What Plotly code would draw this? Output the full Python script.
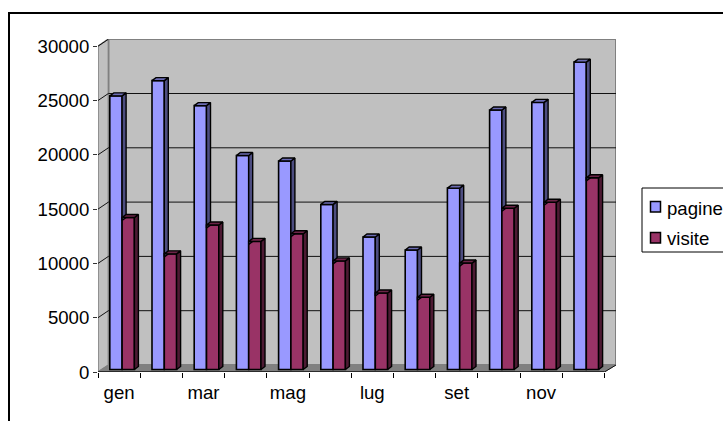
import plotly.graph_objects as go

months = ["gen", "feb", "mar", "apr", "mag", "giu", "lug", "ago", "set", "ott", "nov", "dic"]
pagine = [25200, 26600, 24300, 19700, 19200, 15200, 12200, 11000, 16700, 23900, 24600, 28300]
visite = [14000, 10650, 13300, 11800, 12500, 10000, 7050, 6650, 9800, 14850, 15400, 17650]
y_ticks = [0, 5000, 10000, 15000, 20000, 25000, 30000]

W, H = 723, 421
L, R, T, B = 98, 107, 39, 49
PW, PH = W - L - R, H - T - B
UX = (604.7 - 98.3) / 12      # px per category
UY = 54.3 / 5000              # px per unit
X_MAX = PW / UX
Y_MAX = PH / UY
WALL_DX = 10.4 / UX
WALL_DY = 7 / UY
BAR_DX = 4 / UX
BAR_DY = 3 / UY
BASE = 2.5 / UY
BAR_W = 12.3 / UX
BAR_START = 11.8 / UX
FONT = "Liberation Sans"
FS = 18.6


def px(x):
    return (x - L) / PW


def py(y):
    return 1 - (y - T) / PH


def poly(points):
    xs, ys = zip(*points)
    return "M" + "L".join(f"{a},{b}" for a, b in zip(xs, ys)) + "Z"


shapes = []
# back wall, left wall, floor
shapes.append(dict(type="path", layer="below", line=dict(color="#808080", width=2), fillcolor="#C0C0C0",
                   path=poly([(WALL_DX, WALL_DY), (X_MAX, WALL_DY), (X_MAX, Y_MAX), (WALL_DX, Y_MAX)])))
shapes.append(dict(type="path", layer="below", line=dict(color="#808080", width=1.5), fillcolor="#C0C0C0",
                   path=poly([(0, 0), (WALL_DX, WALL_DY), (WALL_DX, Y_MAX), (0, 30000)])))
shapes.append(dict(type="path", layer="below", line=dict(color="#808080", width=1), fillcolor="#808080",
                   path=poly([(0, 0), (12, 0), (X_MAX, WALL_DY), (WALL_DX, WALL_DY)])))
for t in y_ticks[1:]:
    shapes.append(dict(type="line", layer="below", x0=0, y0=t, x1=WALL_DX, y1=t + WALL_DY,
                       line=dict(color="#111111", width=1)))
    if t < 30000:
        shapes.append(dict(type="line", layer="below", x0=WALL_DX, y0=t + WALL_DY, x1=X_MAX, y1=t + WALL_DY,
                           line=dict(color="#111111", width=1)))
shapes.append(dict(type="line", layer="below", x0=12, y0=0, x1=X_MAX, y1=WALL_DY,
                   line=dict(color="#111111", width=1)))
shapes.append(dict(type="line", layer="below", x0=0, y0=0, x1=12, y1=0,
                   line=dict(color="#111111", width=1.5)))
# chart frame (runs off the right and bottom of the picture)
shapes.append(dict(type="rect", xref="paper", yref="paper", x0=px(9), y0=py(440), x1=px(760), y1=py(13),
                   line=dict(color="#000000", width=2), fillcolor="rgba(0,0,0,0)"))
# legend
shapes.append(dict(type="rect", xref="paper", yref="paper", x0=px(642), y0=py(252), x1=px(760), y1=py(188),
                   line=dict(color="#000000", width=1), fillcolor="#FFFFFF"))
shapes.append(dict(type="rect", xref="paper", yref="paper", x0=px(650.5), y0=py(212), x1=px(660.5), y1=py(201.5),
                   line=dict(color="#000000", width=1.5), fillcolor="#9999FF"))
shapes.append(dict(type="rect", xref="paper", yref="paper", x0=px(650.5), y0=py(243), x1=px(660.5), y1=py(232.5),
                   line=dict(color="#000000", width=1.5), fillcolor="#993366"))

annotations = [
    dict(xref="paper", yref="paper", x=px(665), y=py(208), text="pagine", showarrow=False, xanchor="left",
         yanchor="middle", font=dict(family=FONT, size=FS, color="#000000")),
    dict(xref="paper", yref="paper", x=px(665), y=py(238), text="visite", showarrow=False, xanchor="left",
         yanchor="middle", font=dict(family=FONT, size=FS, color="#000000")),
]

fig = go.Figure()
x_centers = list(range(12))
fig.add_bar(name="pagine", x=[i + BAR_START + BAR_W / 2 for i in x_centers], y=pagine,
            base=[BASE] * 12, width=BAR_W,
            marker=dict(color="#9999FF", line=dict(color="#000000", width=1.6)))
fig.add_bar(name="visite", x=[i + BAR_START + BAR_W * 1.5 for i in x_centers], y=visite,
            base=[BASE] * 12, width=BAR_W,
            marker=dict(color="#993366", line=dict(color="#000000", width=1.6)))


def faces(start, values, lows, side_col, top_col, name):
    sx, sy, tx, ty = [], [], [], []
    for i in x_centers:
        x0 = i + start
        x1 = x0 + BAR_W
        top = values[i] + BASE
        low = lows[i] + BASE
        sx += [x1, x1 + BAR_DX, x1 + BAR_DX, x1, x1, None]
        sy += [max(low - BAR_DY, BASE), max(low, BASE + BAR_DY), top + BAR_DY, top, max(low - BAR_DY, BASE), None]
        tx += [x0, x0 + BAR_DX, x1 + BAR_DX, x1, x0, None]
        ty += [top, top + BAR_DY, top + BAR_DY, top, top, None]
    fig.add_scatter(x=sx, y=sy, mode="lines", fill="toself", fillcolor=side_col, hoverinfo="skip",
                    line=dict(color="#000000", width=1.4), showlegend=False, name=name + " side")
    fig.add_scatter(x=tx, y=ty, mode="lines", fill="toself", fillcolor=top_col, hoverinfo="skip",
                    line=dict(color="#000000", width=1.4), showlegend=False, name=name + " top")


faces(BAR_START, pagine, visite, "#4D4D80", "#6B6BB3", "pagine")
faces(BAR_START + BAR_W, visite, [0] * 12, "#4D1A33", "#6B2447", "visite")

fig.update_layout(
    width=W, height=H, margin=dict(l=L, r=R, t=T, b=B), paper_bgcolor="#FFFFFF", plot_bgcolor="#FFFFFF",
    barmode="overlay", showlegend=False, shapes=shapes, annotations=annotations,
    font=dict(family=FONT, size=FS, color="#000000"),
)
fig.update_xaxes(range=[0, X_MAX], tickmode="array", tickvals=[i + 0.5 for i in x_centers[::2]],
                 ticktext=months[::2], ticks="", showgrid=False, zeroline=False, showline=False,
                 ticklabelstandoff=7,
                 minor=dict(tickmode="array", tickvals=list(range(13)), ticks="outside", ticklen=5,
                            tickcolor="#000000", tickwidth=1, showgrid=False))
fig.update_yaxes(range=[0, Y_MAX], tickmode="array", tickvals=y_ticks, ticks="outside", ticklen=4,
                 tickcolor="#333333", tickwidth=1, showgrid=False, zeroline=False, showline=False,
                 ticklabelstandoff=0, tickformat="d")

fig.write_html("out.html", config={"displayModeBar": False},
               post_script="document.body.style.margin='0';document.documentElement.style.overflow='hidden';")
